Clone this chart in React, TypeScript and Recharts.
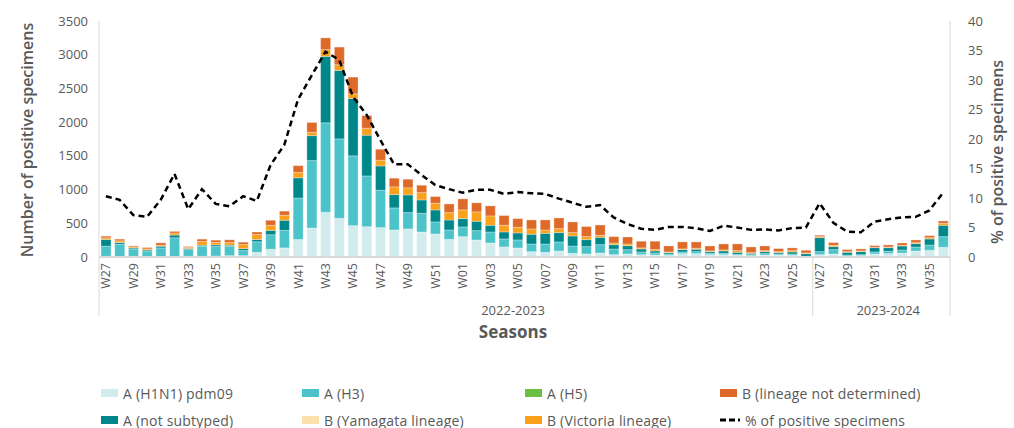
import { ComposedChart, Bar, Line, XAxis, YAxis } from 'recharts'

// weekly influenza detections, season 2022-2023 (W27-W26) and start of 2023-2024
const weeks = [
  'W27', 'W28', 'W29', 'W30', 'W31', 'W32', 'W33', 'W34', 'W35', 'W36', 'W37', 'W38', 'W39',
  'W40', 'W41', 'W42', 'W43', 'W44', 'W45', 'W46', 'W47', 'W48', 'W49', 'W50', 'W51', 'W52',
  'W01', 'W02', 'W03', 'W04', 'W05', 'W06', 'W07', 'W08', 'W09', 'W10', 'W11', 'W12', 'W13',
  'W14', 'W15', 'W16', 'W17', 'W18', 'W19', 'W20', 'W21', 'W22', 'W23', 'W24', 'W25', 'W26',
  'W27', 'W28', 'W29', 'W30', 'W31', 'W32', 'W33', 'W34', 'W35', 'W36',
]
const seasons = ['2022-2023', '2023-2024']
const seasonWeeks = [52, 10]

const h1n1 = [
  10, 10, 10, 5, 5, 5, 10, 10, 15, 20, 20, 70, 115, 135, 260, 430, 665, 574, 465, 450, 436, 401, 416, 371, 342, 262,
  302, 252, 208, 149, 134, 79, 69, 89, 54, 45, 59, 35, 45, 35, 30, 25, 50, 50, 35, 35, 25, 20, 30, 30, 25, 5,
  35, 45, 15, 20, 45, 50, 59, 89, 99, 144,
]
const h3 = [
  150, 180, 110, 85, 130, 280, 100, 150, 140, 140, 75, 155, 215, 260, 615, 1000, 1325, 1178, 1035, 752, 554, 327, 243, 277, 178, 139,
  144, 139, 163, 119, 119, 114, 124, 134, 109, 109, 124, 84, 64, 40, 30, 20, 25, 30, 20, 20, 15, 15, 20, 15, 20, 5,
  45, 64, 15, 15, 30, 35, 45, 59, 79, 158,
]
const h5 = [
  0, 0, 0, 0, 0, 0, 0, 0, 0, 0, 0, 0, 0, 0, 0, 0, 0, 0, 0, 0, 0, 0, 0, 0, 0, 0,
  0, 0, 0, 0, 0, 0, 0, 0, 0, 0, 0, 0, 0, 0, 0, 0, 0, 0, 0, 0, 0, 0, 0, 0, 0, 0,
  0, 0, 0, 0, 0, 0, 0, 0, 0, 0,
]
const notSubtyped = [
  100, 25, 15, 15, 25, 40, 15, 15, 25, 15, 30, 35, 65, 150, 300, 370, 985, 1015, 851, 604, 361, 198, 262, 198, 178, 148,
  124, 139, 99, 104, 104, 144, 158, 139, 149, 104, 109, 64, 59, 45, 30, 20, 35, 35, 25, 35, 30, 20, 30, 20, 30, 40,
  208, 45, 40, 45, 64, 54, 59, 50, 89, 168,
]
const yamagata = [
  0, 0, 0, 0, 0, 0, 0, 0, 0, 0, 0, 0, 0, 0, 0, 0, 0, 0, 0, 0, 0, 0, 0, 0, 0, 0,
  0, 0, 0, 0, 0, 0, 0, 0, 0, 0, 0, 0, 0, 0, 0, 0, 0, 0, 0, 0, 0, 0, 0, 0, 0, 0,
  0, 0, 0, 0, 0, 0, 0, 0, 0, 0,
]
const victoria = [
  25, 25, 15, 15, 15, 30, 15, 55, 35, 40, 60, 75, 75, 75, 80, 50, 100, 84, 69, 104, 84, 114, 104, 109, 99, 109,
  129, 139, 139, 99, 84, 79, 50, 59, 50, 45, 30, 25, 25, 15, 20, 10, 10, 15, 10, 15, 25, 10, 15, 15, 20, 10,
  15, 20, 10, 10, 5, 10, 10, 15, 20, 30,
]
const notDetermined = [
  25, 25, 15, 20, 35, 25, 15, 35, 35, 40, 35, 35, 75, 60, 100, 145, 175, 262, 248, 188, 163, 129, 129, 109, 99, 129,
  163, 134, 149, 144, 129, 134, 149, 158, 158, 149, 153, 94, 104, 99, 124, 89, 104, 94, 74, 89, 99, 84, 69, 45, 40, 40,
  20, 40, 30, 30, 25, 30, 35, 40, 30, 35,
]
const pctPositive = [
  10.3, 9.7, 7.1, 6.8, 9.7, 14.1, 8.1, 11.5, 9.0, 8.6, 10.3, 9.5, 15.6, 19.0, 26.7, 30.8, 34.8, 33.4, 27.2, 24.1, 19.8, 15.7, 15.7, 13.9, 12.2, 11.5,
  10.9, 11.4, 11.4, 10.7, 11.0, 10.8, 10.7, 9.9, 9.2, 8.5, 8.8, 6.7, 5.6, 4.8, 4.6, 5.1, 5.1, 4.9, 4.4, 5.3, 5.0, 4.6, 4.7, 4.5, 4.9, 5.0,
  9.1, 5.8, 4.3, 4.2, 6.0, 6.4, 6.7, 6.8, 7.9, 10.9,
]

const countTicks = [0, 500, 1000, 1500, 2000, 2500, 3000, 3500]
const pctTicks = [0, 5, 10, 15, 20, 25, 30, 35, 40]

const FONT = '"Open Sans", sans-serif'
const GREY = '#595959'
const AXIS = '#d9d9d9'
const W = 1014
const H = 428
const PLOT_LEFT = 99
const PLOT_RIGHT = 950
const PLOT_TOP = 21
const PLOT_BOTTOM = 257
const BAND = (PLOT_RIGHT - PLOT_LEFT) / weeks.length

const series = [
  { key: 'h1n1', name: 'A (H1N1) pdm09', color: '#d2ecee' },
  { key: 'h3', name: 'A (H3)', color: '#4cc3c8' },
  { key: 'h5', name: 'A (H5)', color: '#6dbf44' },
  { key: 'notSubtyped', name: 'A (not subtyped)', color: '#00878a' },
  { key: 'yamagata', name: 'B (Yamagata lineage)', color: '#fbe0a9' },
  { key: 'victoria', name: 'B (Victoria lineage)', color: '#f9a11d' },
  { key: 'notDetermined', name: 'B (lineage not determined)', color: '#de6a2a' },
]

const seasonOf = (i: number) => (i < seasonWeeks[0] ? seasons[0] : seasons[1])

const data = weeks.map((w, i) => ({
  key: `${seasonOf(i)}-${w}`,
  h1n1: h1n1[i],
  h3: h3[i],
  h5: h5[i],
  notSubtyped: notSubtyped[i],
  yamagata: yamagata[i],
  victoria: victoria[i],
  notDetermined: notDetermined[i],
  pct: pctPositive[i],
}))

function WeekTick(props: any) {
  const { x, payload } = props
  const i = payload.index
  const ty = PLOT_BOTTOM + 6
  const sepBottom = 316
  return (
    <g>
      <text
        x={x}
        y={ty}
        transform={`rotate(-90 ${x} ${ty})`}
        textAnchor="end"
        dominantBaseline="central"
        fill={GREY}
        fontSize={12.5}
        fontFamily={FONT}
      >
        {weeks[i]}
      </text>
      {i === 0 && (
        <>
          <line x1={x - BAND / 2} x2={x - BAND / 2} y1={PLOT_BOTTOM} y2={sepBottom} stroke={AXIS} />
          <text x={513} y={315} textAnchor="middle" fill={GREY} fontSize={13} fontFamily={FONT}>{seasons[0]}</text>
          <text x={513} y={338} textAnchor="middle" fill={GREY} fontSize={17} fontWeight={700} fontFamily={FONT}>Seasons</text>
        </>
      )}
      {i === seasonWeeks[0] && (
        <>
          <line x1={x - BAND / 2} x2={x - BAND / 2} y1={PLOT_BOTTOM} y2={sepBottom} stroke={AXIS} />
          <text x={x + BAND * 5} y={315} textAnchor="middle" fill={GREY} fontSize={13} fontFamily={FONT}>{seasons[1]}</text>
        </>
      )}
      {i === weeks.length - 2 && (
        <line x1={x + BAND * 1.5} x2={x + BAND * 1.5} y1={PLOT_BOTTOM} y2={sepBottom} stroke={AXIS} />
      )}
    </g>
  )
}

function LegendBox() {
  const rows = [
    [series[0], series[1], series[2], series[6]],
    [series[3], series[4], series[5], null],
  ]
  const cols = [101, 302, 525, 720]
  const rowY = [393, 420]
  return (
    <>
      {rows.map((row, r) =>
        row.map((s, c) => (
          <div
            key={`${r}-${c}`}
            style={{
              position: 'absolute',
              left: cols[c],
              top: rowY[r] - 9,
              height: 18,
              display: 'flex',
              alignItems: 'center',
              fontFamily: FONT,
              fontSize: 14,
              letterSpacing: 0.2,
              color: GREY,
              whiteSpace: 'nowrap',
            }}
          >
            {s ? (
              <span style={{ width: 17, height: 8, background: s.color, display: 'inline-block', marginRight: 5 }} />
            ) : (
              <svg width={20} height={8} style={{ marginRight: 5 }}>
                <line x1={0} x2={20} y1={4} y2={4} stroke="#000" strokeWidth={3} strokeDasharray="6 3" />
              </svg>
            )}
            <span>{s ? s.name : '% of positive specimens'}</span>
          </div>
        )),
      )}
    </>
  )
}

export default function App() {
  return (
    <div style={{ position: 'absolute', left: 0, top: 0, width: W, height: H, background: '#fff' }}>
      <ComposedChart
        width={W}
        height={H}
        data={data}
        margin={{ top: PLOT_TOP, right: 0, bottom: 0, left: 0 }}
        barSize={10}
      >
        <XAxis
          dataKey="key"
          interval={1}
          height={H - PLOT_BOTTOM}
          tickLine={false}
          axisLine={{ stroke: AXIS, strokeWidth: 2 }}
          tick={<WeekTick />}
        />
        <YAxis
          yAxisId="count"
          width={PLOT_LEFT}
          domain={[0, 3500]}
          ticks={countTicks}
          tickLine={false}
          tickSize={8}
          tickMargin={3}
          axisLine={{ stroke: AXIS }}
          tick={{ fill: GREY, fontSize: 13, fontFamily: FONT }}
          label={{
            content: () => (
              <text
                x={27}
                y={140}
                transform="rotate(-90 27 140)"
                textAnchor="middle"
                dominantBaseline="central"
                fill={GREY}
                fontSize={16}
                fontWeight={600}
                fontFamily={FONT}
              >
                Number of positive specimens
              </text>
            ),
          }}
        />
        <YAxis
          yAxisId="pct"
          orientation="right"
          width={W - PLOT_RIGHT}
          domain={[0, 40]}
          ticks={pctTicks}
          tickLine={false}
          tickSize={8}
          tickMargin={10}
          axisLine={{ stroke: AXIS }}
          tick={{ fill: GREY, fontSize: 13, fontFamily: FONT }}
          label={{
            content: () => (
              <text
                x={997}
                y={152}
                transform="rotate(-90 997 152)"
                textAnchor="middle"
                dominantBaseline="central"
                fill={GREY}
                fontSize={16}
                fontWeight={600}
                fontFamily={FONT}
              >
                % of positive specimens
              </text>
            ),
          }}
        />
        {series.map(s => (
          <Bar
            key={s.key}
            dataKey={s.key}
            name={s.name}
            stackId="flu"
            yAxisId="count"
            fill={s.color}
            stroke="#ffffff"
            strokeOpacity={0.5}
            strokeWidth={0.6}
            isAnimationActive={false}
          />
        ))}
        <Line
          dataKey="pct"
          yAxisId="pct"
          type="linear"
          stroke="#000"
          strokeWidth={2.5}
          strokeDasharray="6 4"
          dot={false}
          activeDot={false}
          isAnimationActive={false}
        />
      </ComposedChart>
      <LegendBox />
    </div>
  )
}
